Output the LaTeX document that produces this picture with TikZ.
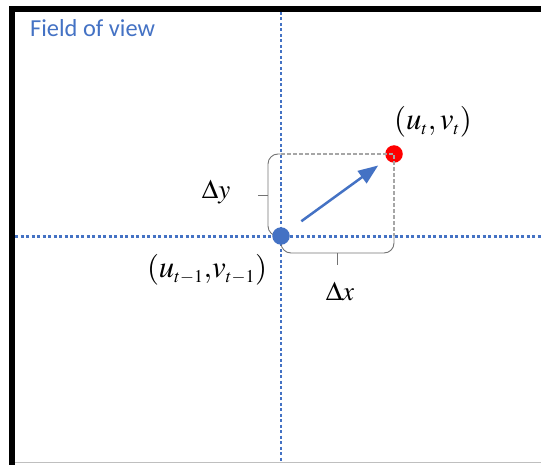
\documentclass[tikz,border=0pt]{standalone}
\usepackage{mathptmx}
\usepackage[no-math]{fontspec}
\newfontfamily\fovfont{Carlito}
\usetikzlibrary{arrows.meta,calc}
\definecolor{offblue}{RGB}{68,114,196}
\definecolor{markred}{RGB}{255,0,0}
\DeclareMathSizes{31}{31}{18}{14}
\DeclareMathSizes{27}{27}{16}{12}

\begin{document}
\begin{tikzpicture}[x=1bp,y=-1bp,
  axis/.style={offblue,line width=2.5bp,dash pattern=on 3bp off 2.5bp},
  dot/.style={circle,inner sep=0pt,minimum size=17.5bp},
  guide/.style={black!35,line width=1.5bp,dash pattern=on 4bp off 2bp},
  brace/.style={black!55,line width=0.9bp,rounded corners=10bp},
  vec/.style={offblue,line width=2.5bp,-{Triangle[length=20bp,width=15bp]}},
  lbl/.style={inner sep=0pt,font=\fontsize{31}{36}\selectfont},
  dlbl/.style={inner sep=0pt,font=\fontsize{27}{32}\selectfont}]
  \useasboundingbox (0,0) rectangle (541,465);
  \draw[line width=6bp] (12,465) -- (12,9) -- (541,9);
  \draw[black!25,line width=1bp] (15,462.5) -- (541,462.5);
  \node[offblue,inner sep=0pt,anchor=base west,font=\fovfont\fontsize{24.5}{28}\selectfont] (fov) at (30,37) {Field of view};
  \coordinate (ftop) at (281,12);
  \coordinate (fbot) at (281,462);
  \coordinate (fleft) at (15,236.5);
  \coordinate (fright) at (541,236.5);
  \draw[axis] (ftop) -- (fbot);
  \draw[axis] (fleft) -- (fright);
  \node[dot,fill=markred] (curr) at (394,154) {};
  \coordinate (prevpos) at (281,236);
  \draw[brace] (prevpos |- curr) -- ++(-13,0) |- (prevpos);
  \draw[brace] ($(prevpos |- curr)!0.5!(prevpos)$) ++(-13,0) -- ++(-10,0);
  \draw[brace] (prevpos) -- ++(0,17) -| (curr |- prevpos);
  \draw[brace] ($(prevpos)!0.5!(curr |- prevpos)$) ++(0,17) -- ++(0,12);
  \node[dot,fill=offblue] (prev) at (prevpos) {};
  \draw[guide] (prev |- curr) -- (curr.center) -- (curr |- prev);
  \draw[vec] ($(prev)!0.18!(curr)$) -- ($(prev)!0.86!(curr)$);
  \node[lbl] (currlbl) at (433,122) {$(u_t{,}\,v_t)$};
  \node[lbl] (prevlbl) at (207,270) {$(u_{t-1}{,}v_{t-1})$};
  \node[dlbl] (dy) at (216,192) {$\Delta y$};
  \node[dlbl] (dx) at (340,291) {$\Delta x$};
\end{tikzpicture}
\end{document}
